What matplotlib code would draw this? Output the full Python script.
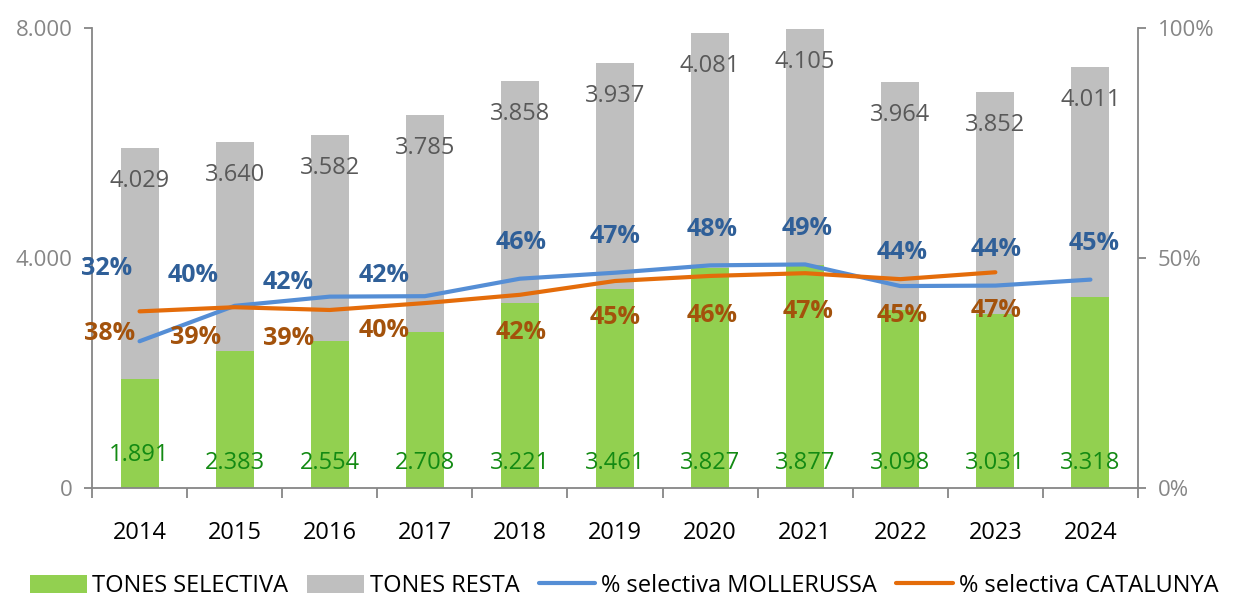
import matplotlib
matplotlib.use("Agg")
import matplotlib.pyplot as plt
import numpy as np

plt.rcParams['font.family'] = ['Open Sans', 'Noto Sans', 'DejaVu Sans']

years = ['2014', '2015', '2016', '2017', '2018', '2019', '2020', '2021', '2022', '2023', '2024']
tones_selectiva = [1891, 2383, 2554, 2708, 3221, 3461, 3827, 3877, 3098, 3031, 3318]
tones_resta = [4029, 3640, 3582, 3785, 3858, 3937, 4081, 4105, 3964, 3852, 4011]
pct_mollerussa = [31.9, 39.6, 41.6, 41.7, 45.5, 46.8, 48.4, 48.6, 43.9, 44.0, 45.3]
pct_catalunya = [38.4, 39.3, 38.7, 40.2, 42.0, 45.0, 46.1, 46.7, 45.4, 46.9]

# label offsets in pixels (dx, dy) relative to the line points
moll_off = [(-33, 73), (-42, 30), (-42, 14), (-41, 21), (1, 36), (0, 36),
            (2, 36), (2, 36), (2, 34), (1, 36), (4, 36)]
cat_off = [(-30, -22), (-39, -30), (-41, -29), (-41, -27), (1, -38), (0, -37),
           (2, -40), (3, -38), (2, -36), (1, -38)]

c_green = '#92D050'
c_gray = '#BFBFBF'
c_blue = '#558ED5'
c_orange = '#E46C0A'
axis_gray = '#868686'

fig = plt.figure(figsize=(12.48, 6.01), dpi=100)
ax = fig.add_axes([92 / 1248, 113 / 601, (1138 - 92) / 1248, 460 / 601])
ax2 = ax.twinx()

x = np.arange(len(years))
w = 0.4
ax.bar(x, tones_selectiva, w, color=c_green, label='TONES SELECTIVA')
ax.bar(x, tones_resta, w, bottom=tones_selectiva, color=c_gray, label='TONES RESTA')

ax.set_xlim(-0.5, len(years) - 0.5)
ax.set_ylim(0, 8000)
ax.set_yticks([0, 4000, 8000])
ax.set_yticklabels(['0', '4.000', '8.000'])

def fmt(v):
    return f'{v:,}'.replace(',', '.')

for i in range(len(years)):
    top = tones_selectiva[i] + tones_resta[i]
    ax.annotate(fmt(tones_resta[i]), (x[i], top), xytext=(0, -33),
                textcoords='offset pixels', ha='center', va='center',
                fontsize=17, color='#595959')
    ax.annotate(fmt(tones_selectiva[i]), (x[i], 0), xytext=(0, 25 if i else 33),
                textcoords='offset pixels', ha='center', va='center',
                fontsize=17, color='#138A13')

ax2.plot(x, pct_mollerussa, color=c_blue, lw=3, solid_capstyle='round',
         label='% selectiva MOLLERUSSA')
xc = x[:len(pct_catalunya)]
ax2.plot(xc, pct_catalunya, color=c_orange, lw=3, solid_capstyle='round',
         label='% selectiva CATALUNYA')
ax2.set_ylim(0, 100)
ax2.set_yticks([0, 50, 100])
ax2.set_yticklabels(['0%', '50%', '100%'])

for i, v in enumerate(pct_mollerussa):
    ax2.annotate(f'{v:.0f}%', (x[i], v), xytext=moll_off[i], textcoords='offset pixels',
                 ha='center', va='center', fontsize=18, fontweight='bold', color='#2F5F98')
for i, v in enumerate(pct_catalunya):
    ax2.annotate(f'{v:.0f}%', (xc[i], v), xytext=cat_off[i], textcoords='offset pixels',
                 ha='center', va='center', fontsize=18, fontweight='bold', color='#A3520C')

# axes styling
for a in (ax, ax2):
    a.spines['top'].set_visible(False)
    for s in ('left', 'right', 'bottom'):
        a.spines[s].set_color(axis_gray)
        a.spines[s].set_linewidth(1.3)
ax.spines['right'].set_visible(False)
ax2.spines['left'].set_visible(False)
ax2.spines['bottom'].set_visible(False)

ax.set_xticks(np.arange(-0.5, len(years), 1.0))
ax.set_xticklabels([])
ax.set_xticks(x, minor=True)
ax.set_xticklabels(years, minor=True)
ax.tick_params(axis='x', which='major', length=7, color=axis_gray, width=1.3)
ax.tick_params(axis='x', which='minor', length=0, labelsize=17, pad=24, labelcolor='black')
ax.tick_params(axis='y', length=6, color=axis_gray, width=1.3, labelsize=16,
               labelcolor=axis_gray, pad=8)
ax2.tick_params(axis='y', length=6, color=axis_gray, width=1.3, labelsize=16,
                labelcolor=axis_gray, pad=8)

h1, l1 = ax.get_legend_handles_labels()
h2, l2 = ax2.get_legend_handles_labels()
fig.legend(h1 + h2, l1 + l2, loc='lower center', bbox_to_anchor=(0.5, -0.03), ncol=4,
           frameon=False, fontsize=17, handlelength=2.4, handleheight=0.8,
           handletextpad=0.25, columnspacing=0.8)

fig.savefig('out.png', dpi=100)
